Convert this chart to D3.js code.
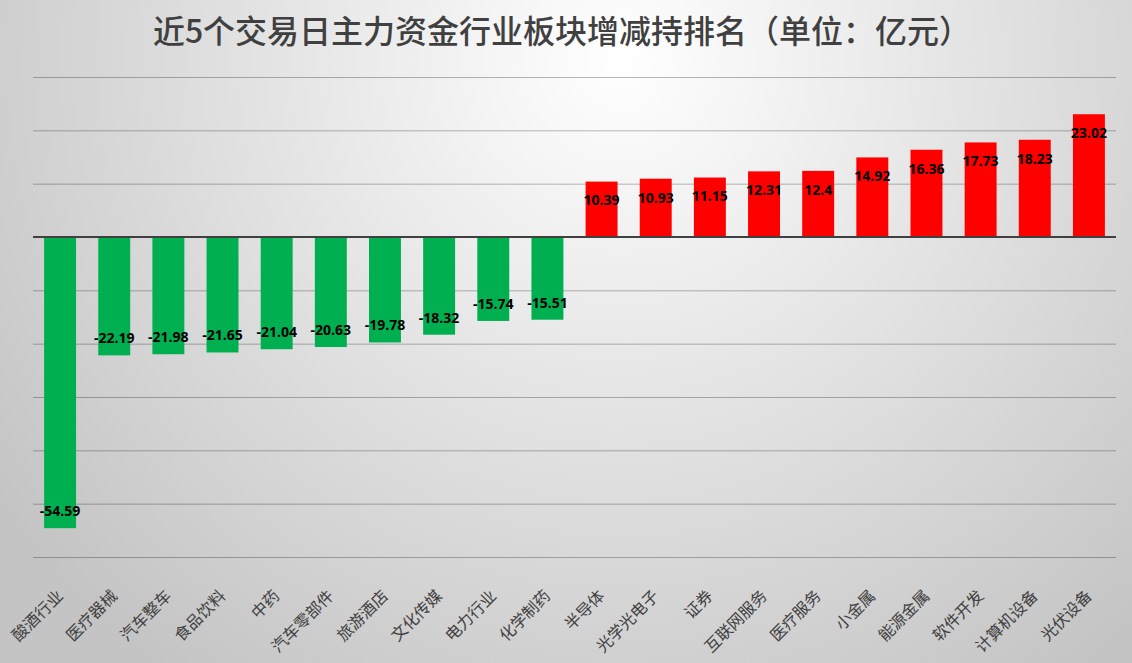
<!DOCTYPE html>
<html><head><meta charset="utf-8">
<script src="https://cdn.jsdelivr.net/npm/d3@7/dist/d3.min.js"></script>
<style>body{margin:0;overflow:hidden}svg{display:block}</style>
</head><body>
<svg id="c" width="1132" height="663"></svg>
<script>
const categories = ["酸酒行业","医疗器械","汽车整车","食品饮料","中药","汽车零部件","旅游酒店","文化传媒","电力行业","化学制药","半导体","光学光电子","证券","互联网服务","医疗服务","小金属","能源金属","软件开发","计算机设备","光伏设备"];
const values = [-54.59,-22.19,-21.98,-21.65,-21.04,-20.63,-19.78,-18.32,-15.74,-15.51,10.39,10.93,11.15,12.31,12.4,14.92,16.36,17.73,18.23,23.02];
const gridTicks = [30,20,10,0,-10,-20,-30,-40,-50,-60];
const title = "近5个交易日主力资金行业板块增减持排名（单位：亿元）";

const W = 1132, H = 663;
const svg = d3.select("#c");
const defs = svg.append("defs");
const rg = defs.append("radialGradient").attr("id","bg")
  .attr("gradientUnits","userSpaceOnUse").attr("cx",620).attr("cy",60).attr("r",760);
rg.append("stop").attr("offset","0%").attr("stop-color","#ffffff");
rg.append("stop").attr("offset","100%").attr("stop-color","#c4c4c4");
svg.append("rect").attr("width",W).attr("height",H).attr("fill","url(#bg)");

const x = d3.scaleBand().domain(categories).range([33,1116]).paddingInner(0.41).paddingOuter(0.205);
const y = d3.scaleLinear().domain([-60,30]).range([557,77]);

svg.append("text").attr("x",562).attr("y",43).attr("text-anchor","middle")
  .attr("font-family","'Noto Sans CJK SC','Noto Sans',sans-serif").attr("font-size",32).attr("font-weight",500)
  .attr("fill","#404040").text(title);

const grid = svg.append("g").attr("transform","translate(33,0)")
  .call(d3.axisLeft(y).tickValues(gridTicks).tickSize(-(1116-33)).tickFormat(""));
grid.select(".domain").remove();
grid.selectAll(".tick line").attr("stroke","rgba(0,0,0,0.28)").attr("stroke-width",1);
grid.selectAll(".tick").filter(d=>d===0).remove();

svg.append("g").selectAll("rect").data(values).join("rect")
  .attr("x",(d,i)=>x(categories[i]))
  .attr("width",x.bandwidth())
  .attr("y",d=>y(Math.max(0,d)))
  .attr("height",d=>Math.abs(y(d)-y(0)))
  .attr("fill",d=>d<0?"#00b050":"#ff0000");

svg.append("line").attr("x1",33).attr("x2",1116).attr("y1",y(0)).attr("y2",y(0))
  .attr("stroke","#404040").attr("stroke-width",2);

svg.append("g").selectAll("text").data(values).join("text")
  .attr("x",(d,i)=>x(categories[i])+x.bandwidth()/2)
  .attr("y",d=>d<0?y(d)-17:y(d)+19)
  .attr("dy","0.35em").attr("text-anchor","middle")
  .attr("font-family","'Open Sans','Noto Sans',sans-serif").attr("font-weight","bold").attr("font-size",14)
  .attr("fill","#000").text(d=>String(d));

const xa = svg.append("g").attr("transform","translate(0,557)")
  .call(d3.axisBottom(x).tickSize(0).tickPadding(0));
xa.select(".domain").remove();
xa.selectAll(".tick text")
  .attr("font-family","'Noto Sans CJK SC',sans-serif").attr("font-size",16).attr("fill","#404040")
  .attr("text-anchor","end").attr("dy",0).attr("y",0)
  .attr("transform","translate(4,40) rotate(-45)");
</script>
</body></html>
